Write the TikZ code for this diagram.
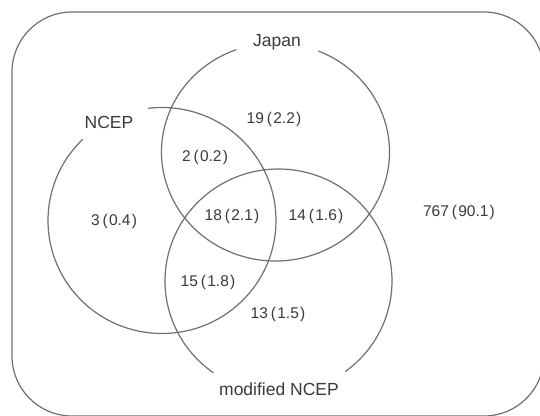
\documentclass[tikz,border=0pt]{standalone}
\usepackage{fontspec}
\setmainfont{Liberation Sans}
\definecolor{ringgray}{RGB}{112,112,112}
\definecolor{txtgray}{RGB}{58,58,58}
\newcommand{\nm}[2]{#1\kern3pt(\kern1.2pt#2\kern1.2pt)}
\begin{document}
\begin{tikzpicture}[x=1pt,y=1pt,
  ring/.style={draw=ringgray, line width=1.2pt},
  framebox/.style={draw=ringgray, line width=1.2pt, rounded corners=60pt},
  lbl/.style={text=txtgray, font=\fontsize{17.5}{17.5}\selectfont, inner sep=0pt, text height=0.72em, text depth=0pt},
  num/.style={text=txtgray, font=\fontsize{15.5}{15.5}\selectfont, inner sep=0pt, text height=0.72em, text depth=0pt}]
\useasboundingbox (0,0) rectangle (540,415);
\fill[white] (0,0) rectangle (540,415);
\clip (0,0) rectangle (540,415);
% frame
\draw[framebox] (12,403) rectangle (544,-1);
% centres
\coordinate (cJ) at (275.5,263);
\coordinate (cN) at (162,194.5);
\coordinate (cM) at (278.5,134);
% Japan circle (gap at top)
\draw[ring] ([shift={(110:114 and 109)}]cJ) arc[start angle=110, end angle=428, x radius=114, y radius=109];
% NCEP circle (gap at upper left)
\draw[ring] ([shift={(134:114 and 113)}]cN) arc[start angle=134, end angle=457, x radius=114, y radius=113];
% modified NCEP circle (gap at bottom)
\draw[ring] ([shift={(306:113.5 and 112)}]cM) arc[start angle=306, end angle=595, x radius=113.5, y radius=112];
% labels
\node[lbl] (japan) at (277,372) {Japan};
\node[lbl] (ncep) at (109,290) {NCEP};
\node[lbl] (mncep) at (279,23) {modified NCEP};
% counts
\node[num] (n19) at (274,295) {\nm{19}{2.2}};
\node[num] (n2) at (205,257) {\nm{2}{0.2}};
\node[num] (n3) at (114,193) {\nm{3}{0.4}};
\node[num] (n18) at (232,198) {\nm{18}{2.1}};
\node[num] (n14) at (316,198) {\nm{14}{1.6}};
\node[num] (n767) at (459,202) {\nm{767}{90.1}};
\node[num] (n15) at (208,132) {\nm{15}{1.8}};
\node[num] (n13) at (278,100) {\nm{13}{1.5}};
\end{tikzpicture}
\end{document}
